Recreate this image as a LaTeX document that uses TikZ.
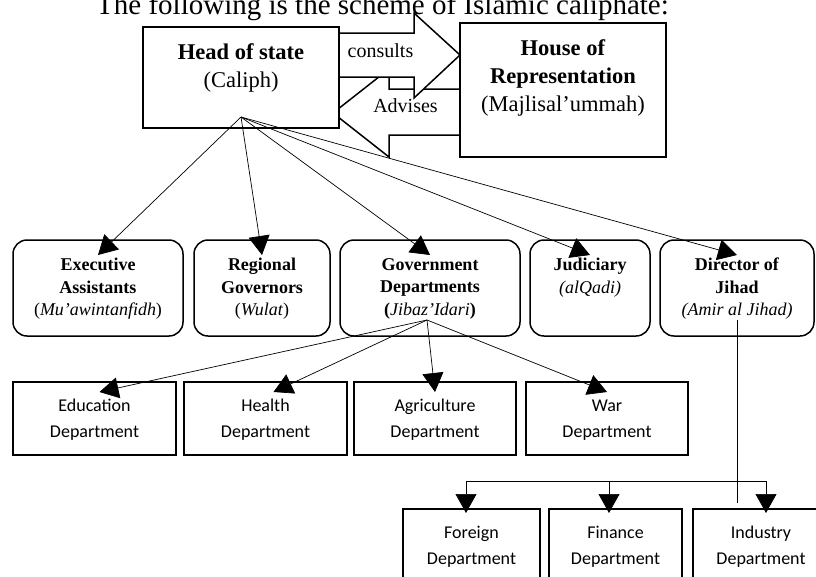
\documentclass[tikz,border=0pt]{standalone}
\usepackage{fontspec}
\setmainfont{Liberation Serif}
\newfontfamily\deptfont{Carlito}
\usetikzlibrary{arrows.meta,positioning}
\newcommand{\dept}[1]{\rule{0pt}{15pt}#1\\Department}

\begin{document}
\begin{tikzpicture}
[x=1pt,y=-1pt,
  boxDecorate/.style={draw,fill=white,line width=1.5pt,inner sep=0pt,outer sep=0pt},
  roundDecorate/.style={boxDecorate,rounded corners=14pt,minimum height=96pt},
  deptDecorate/.style={boxDecorate,minimum height=73pt,align=center,
    font=\deptfont\fontsize{18}{26}\selectfont},
  bigArrow/.style={draw,fill=white,line width=1.5pt},
  topText/.style={align=center,inner sep=0pt,font=\fontsize{22.5}{28}\selectfont},
  rowText/.style={align=center,inner sep=0pt,font=\fontsize{18}{22.5}\selectfont},
  arrowDecorate/.style={-{Triangle[length=19pt,width=21pt]},line width=0.7pt}]
\useasboundingbox[fill=white] (0,0) rectangle (816,576);
%% block arrows between caliph and house
\draw[bigArrow] (333,113) -- (389,69) -- (389,89) -- (470,89) -- (470,135)
  -- (389,135) -- (389,157) -- cycle;
\draw[bigArrow] (330,33) -- (414,33) -- (414,13) -- (460,55) -- (414,98)
  -- (414,77) -- (330,77) -- cycle;
\node (consults) at (380.5,57) [anchor=base,font=\fontsize{20}{24}\selectfont] {consults};
\node (advises) at (405.5,112) [anchor=base,font=\fontsize{20}{24}\selectfont] {Advises};
%% top boxes
\node (head) at (241,77.5) [boxDecorate,minimum width=196pt,minimum height=101pt] {};
\node (headT) [topText,below=16.5pt of head.north] {\textbf{Head of state}\\(Caliph)};
\node (house) at (563,90) [boxDecorate,minimum width=206pt,minimum height=134pt] {};
\node (houseT) [topText,below=16.5pt of house.north] {\textbf{House of}\\\textbf{Representation}\\(Majlisal’ummah)};
%% second row
\node (ex) at (98,288) [roundDecorate,minimum width=170pt] {};
\node (rg) [roundDecorate,minimum width=136pt,right=11pt of ex] {};
\node (gv) [roundDecorate,minimum width=180pt,right=10pt of rg] {};
\node (jd) [roundDecorate,minimum width=120pt,right=10pt of gv] {};
\node (dr) [roundDecorate,minimum width=154pt,right=10pt of jd] {};
\node (exT) [rowText,below=18pt of ex.north] {\textbf{Executive}\\\textbf{Assistants}\\(\textit{Mu’awintanfidh})};
\node (rgT) [rowText,below=18pt of rg.north] {\textbf{Regional}\\\textbf{Governors}\\(\textit{Wulat})};
\node (gvT) [rowText,below=18pt of gv.north] {\textbf{Government}\\\textbf{Departments}\\\textbf{(}\textit{Jibaz’Idari}\textbf{)}};
\node (jdT) [rowText,below=18pt of jd.north] {\textbf{Judiciary}\\\textit{(alQadi)}};
\node (drT) [rowText,below=18pt of dr.north] {\textbf{Director of}\\\textbf{Jihad}\\\textit{(Amir al Jihad)}};
%% departments
\node (ed) at (94.5,418.5) [deptDecorate,minimum width=163pt] {\dept{Education}};
\node (hl) [deptDecorate,minimum width=163pt,right=8pt of ed] {\dept{Health}};
\node (ag) [deptDecorate,minimum width=162pt,right=7pt of hl] {\dept{Agriculture}};
\node (wr) [deptDecorate,minimum width=162pt,right=10pt of ag] {\dept{War}};
\node (ind) at (761,545.5) [deptDecorate,minimum width=136pt] {\dept{Industry}};
\node (fi) [deptDecorate,minimum width=133pt,left=11pt of ind] {\dept{Finance}};
\node (fo) [deptDecorate,minimum width=137pt,left=9pt of fi] {\dept{Foreign}};
%% edges
\coordinate (capS) at ([yshift=11pt]head.south);
\foreach \t in {ex,rg,gv,jd,dr}
  \draw[arrowDecorate] (capS) -- ([yshift=-15pt]\t.north);
\coordinate (gvS) at ([xshift=-3pt,yshift=16pt]gv.south);
\foreach \t/\dx in {ed/5,hl/8,ag/0,wr/0}
  \draw[arrowDecorate] (gvS) -- ([xshift=\dx pt,yshift=-10pt]\t.north);
\coordinate (busF) at (466,481);
\coordinate (busN) at (609,481);
\coordinate (busI) at (766,481);
\draw[line width=0.7pt] (busF) -- (busI);
\foreach \b/\t in {busF/fo,busN/fi,busI/ind}
  \draw[arrowDecorate,shorten >=-4pt] (\b) -- (\b |- \t.north);
\coordinate (drS) at ([yshift=16pt]dr.south);
\draw[line width=0.7pt,shorten >=6pt] (drS) -- (drS |- ind.north);
%% title
\node (title) at (382.5,14) [anchor=base,font=\fontsize{29}{34}\selectfont] {The following is the scheme of Islamic caliphate:};
\end{tikzpicture}
\end{document}
